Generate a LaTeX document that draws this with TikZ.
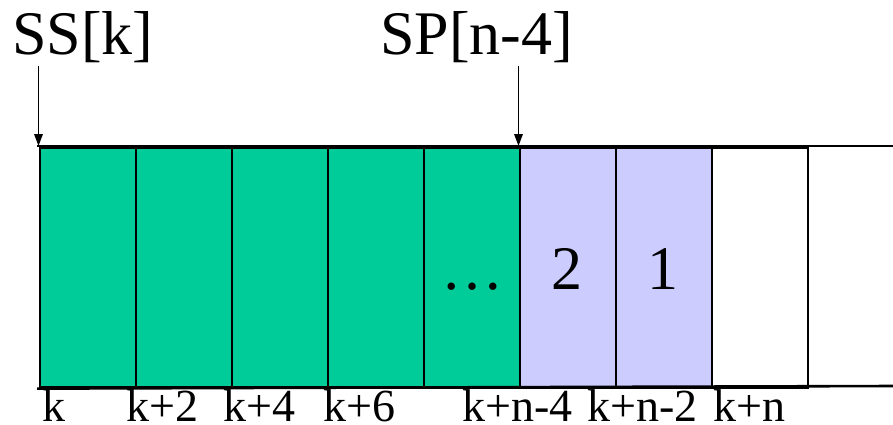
\documentclass[tikz,border=0pt]{standalone}
\usepackage{fontspec}
\setmainfont{Liberation Serif}
\usetikzlibrary{arrows.meta}
\definecolor{cgreen}{RGB}{0,204,153}
\definecolor{clav}{RGB}{204,204,255}
\begin{document}
\begin{tikzpicture}[x=1pt,y=-1pt,
  cell/.style={draw=black,line width=2.6pt,minimum width=96pt,minimum height=240pt,inner sep=0pt,anchor=north west},
  edge/.style={line width=2.6pt,line cap=rect},
  big/.style={font=\fontsize{62}{70}\selectfont,inner sep=0pt},
  lab/.style={font=\fontsize{46}{52}\selectfont,inner sep=0pt,anchor=base west},
  ptr/.style={line width=1.8pt,-{Triangle[length=12pt,width=8.5pt]}}]
\useasboundingbox (0,0) rectangle (893,425);
\fill[white] (0,0) rectangle (893,425);
% cells
\node[cell,fill=cgreen] (c1) at (38.5,146) {};
\node[cell,fill=cgreen] (c2) at (134.5,146) {};
\node[cell,fill=cgreen] (c3) at (230.5,146) {};
\node[cell,fill=cgreen] (c4) at (326.5,146) {};
\node[cell,fill=cgreen] (c5) at (422.5,146) {};
\node[cell,fill=clav] (c6) at (518.5,146) {};
\node[cell,fill=clav] (c7) at (614.5,146) {};
\node[cell] (c8) at (710.5,146) {};
\coordinate (rt) at (894,146);
\coordinate (rb) at (894,386);
\draw[edge] (c1.north west) -- (rt);
\draw[edge] (c1.south west) -- (rb);
% cell texts
\node[big,anchor=base] (dots) at (472,289) {…};
\node[big,anchor=base] (two) at (566.5,289) {2};
\node[big,anchor=base] (one) at (662.5,289) {1};
% pointer labels
\node[big,anchor=base west] (ss) at (12,55) {SS[k]};
\node[big,anchor=base west] (sp) at (380,55) {SP[n-4]};
\coordinate (ssstart) at (38.5,66);
\coordinate (spstart) at (518.5,66);
\draw[ptr] (ssstart) -- (c1.north west);
\draw[ptr] (spstart) -- (c6.north west);
% index labels
\node[lab] (l1) at (42,421) {k};
\node[lab] (l2) at (126,421) {k+2};
\node[lab] (l3) at (223,421) {k+4};
\node[lab] (l4) at (323,421) {k+6};
\node[lab] (l5) at (462,421) {k+n-4};
\node[lab] (l6) at (587,421) {k+n-2};
\node[lab] (l7) at (713,421) {k+n};
\end{tikzpicture}
\end{document}
